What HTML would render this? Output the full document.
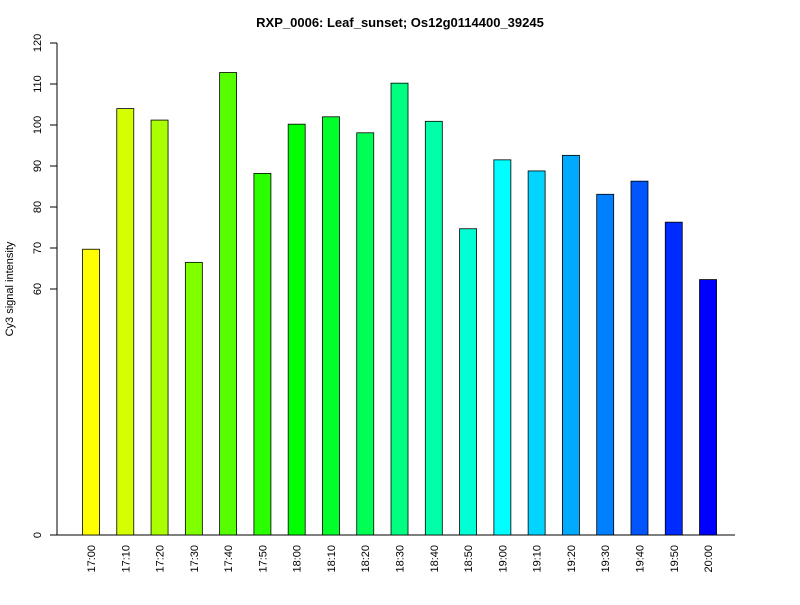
<!DOCTYPE html>
<html><head><meta charset="utf-8"><style>
body{margin:0;background:#fff}
svg{font-family:"Liberation Sans",Arial,sans-serif}
</style></head><body>
<svg id="chart" width="800" height="600" xmlns="http://www.w3.org/2000/svg">
<rect width="800" height="600" fill="#fff"/>
<text x="400" y="27" text-anchor="middle" font-size="13" font-weight="bold">RXP_0006: Leaf_sunset; Os12g0114400_39245</text>
<text transform="translate(13,289) rotate(-90)" text-anchor="middle" font-size="11">Cy3 signal intensity</text>
<g id="yaxis"></g>
<g id="bars"></g>
<g id="xlabels"></g>
</svg>
<script>
const categories=["17:00","17:10","17:20","17:30","17:40","17:50","18:00","18:10","18:20","18:30","18:40","18:50","19:00","19:10","19:20","19:30","19:40","19:50","20:00"];
const values=[69.7,104,101.2,66.5,112.8,88.2,100.2,102,98.1,110.2,100.9,74.7,91.5,88.8,92.6,83.1,86.3,76.3,62.3];
const yTicks=[0,60,70,80,90,100,110,120];
const NS="http://www.w3.org/2000/svg";
const y=v=>535-v*492/120;
const x=i=>91+i*34.28;
function mk(t,a,p){const e=document.createElementNS(NS,t);for(const k in a)e.setAttribute(k,a[k]);p.appendChild(e);return e;}
const ya=document.getElementById('yaxis');
const al=mk('line',{x1:57,x2:57,y1:y(120),y2:y(0),stroke:'#000'},ya);


yTicks.forEach(t=>{
 const l=mk('line',{x1:50,x2:57,y1:y(t),y2:y(t),stroke:'#000'},ya);
 
 
 const tx=mk('text',{transform:`translate(41,${y(t)}) rotate(-90)`,'text-anchor':'middle','font-size':11},ya);
 tx.textContent=t;
 
 
});
const xl=mk('line',{x1:57,x2:735,y1:535,y2:535,stroke:'#000'},ya);


const bg=document.getElementById('bars'),lg=document.getElementById('xlabels');
categories.forEach((c,i)=>{
 const h=60+i*180/(categories.length-1);
 const r=mk('rect',{x:x(i)-8.5,y:y(values[i]),width:17,height:y(0)-y(values[i]),fill:`hsl(${h},100%,50%)`,stroke:'#000','stroke-width':0.8},bg);
 
 
 const t=mk('text',{transform:`translate(${x(i)+4},545) rotate(-90)`,'text-anchor':'end','font-size':11},lg);
 t.textContent=c;
 
 
});
</script>
</body></html>
